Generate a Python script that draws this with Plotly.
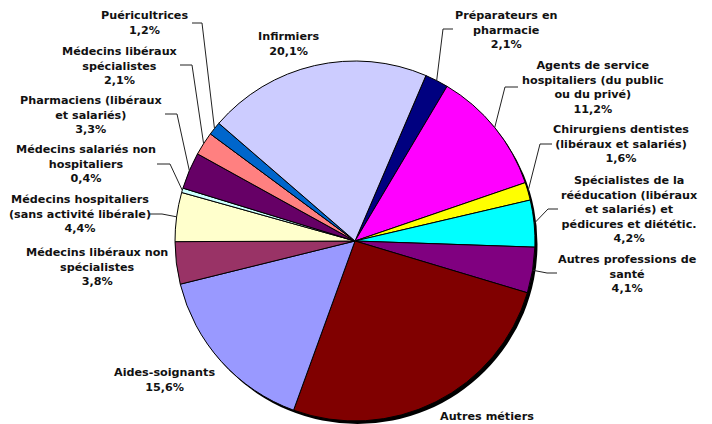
import math
import plotly.graph_objects as go

# ---------------- data ----------------
categories = [
    "Préparateurs en pharmacie",
    "Agents de service hospitaliers (du public ou du privé)",
    "Chirurgiens dentistes (libéraux et salariés)",
    "Spécialistes de la rééducation (libéraux et salariés) et pédicures et diététic.",
    "Autres professions de santé",
    "Autres métiers",
    "Aides-soignants",
    "Médecins libéraux non spécialistes",
    "Médecins hospitaliers (sans activité libérale)",
    "Médecins salariés non hospitaliers",
    "Pharmaciens (libéraux et salariés)",
    "Médecins libéraux spécialistes",
    "Puéricultrices",
    "Infirmiers",
]
values = [2.1, 11.2, 1.6, 4.2, 4.1, 25.9, 15.6, 3.8, 4.4, 0.4, 3.3, 2.1, 1.2, 20.1]
show_pct = [True, True, True, True, True, False, True, True, True, True, True, True, True, True]
display_labels = [
    "Préparateurs en<br>pharmacie",
    "Agents de service<br>hospitaliers (du public<br>ou du privé)",
    "Chirurgiens dentistes<br>(libéraux et salariés)",
    "Spécialistes de la<br>rééducation (libéraux<br>et salariés) et<br>pédicures et diététic.",
    "Autres professions de<br>santé",
    "Autres métiers",
    "Aides-soignants",
    "Médecins libéraux non<br>spécialistes",
    "Médecins hospitaliers<br>(sans activité libérale)",
    "Médecins salariés non<br>hospitaliers",
    "Pharmaciens (libéraux<br>et salariés)",
    "Médecins libéraux<br>spécialistes",
    "Puéricultrices",
    "Infirmiers",
]
colors = ["#000080", "#FF00FF", "#FFFF00", "#00FFFF", "#800080", "#800000", "#9999FF",
          "#993366", "#FFFFCC", "#CCFFFF", "#660066", "#FF8080", "#0066CC", "#CCCCFF"]

# ---------------- layout (pixels, reference picture coords) ----------------
W, H = 712, 424
OFF = 8          # page body margin offset
CX, CY, R = 355, 241, 180
ROTATION = 23.2

label_pos = [
    (506, 30), (593, 88), (621, 144), (629, 209), (627, 274), (487, 416), (164, 380),
    (97, 267), (80, 214), (86, 164), (91, 115), (120, 66), (144, 23), (289, 44),
]
leaders = [
    (453, 443, 29), (518, 505, 87), (552, 540, 144), (558, 548, 209), (557, 547, 273),
    None, None, None, (150, 162, 214), (157, 170, 164), (165, 177, 114), (180, 192, 65),
    (192, 202, 23), None,
]


def px(x):
    return (x - OFF) / W


def py(y):
    return 1 - (y - OFF) / H


fig = go.Figure(go.Pie(
    labels=categories,
    values=values,
    sort=False,
    direction="clockwise",
    rotation=ROTATION,
    marker=dict(colors=colors, line=dict(color="black", width=1)),
    textinfo="none",
    hoverinfo="label+percent",
    domain=dict(x=[px(CX - R), px(CX + R)], y=[py(CY + R), py(CY - R)]),
    showlegend=False,
))

total = sum(values)
annotations = []
shapes = [dict(type="circle", xref="paper", yref="paper", layer="below",
               x0=px(CX - R + 2.5), x1=px(CX + R + 2.5), y0=py(CY + R + 3), y1=py(CY - R + 3),
               fillcolor="black", line=dict(width=0))]

cum = 0.0
for i, v in enumerate(values):
    mid = ROTATION + (cum + v / 2) / total * 360
    cum += v
    txt = display_labels[i]
    if show_pct[i]:
        txt += "<br>" + f"{v:.1f}".replace(".", ",") + "%"
    lx, ly = label_pos[i]
    annotations.append(dict(
        x=px(lx), y=py(ly), xref="paper", yref="paper", text=txt, showarrow=False,
        xanchor="center", yanchor="middle", align="center",
        font=dict(family="DejaVu Sans", size=11.2, color="#111111", weight="bold"),
    ))
    if leaders[i] is not None:
        x1, x2, yy = leaders[i]
        a = math.radians(mid)
        ex = CX + R * math.sin(a)
        ey = CY - R * math.cos(a)
        shapes.append(dict(
            type="path", xref="paper", yref="paper",
            path=f"M {px(x1)} {py(yy)} L {px(x2)} {py(yy)} L {px(ex)} {py(ey)}",
            line=dict(color="#222222", width=1),
        ))

fig.update_layout(
    width=W, height=H,
    margin=dict(l=0, r=0, t=0, b=0),
    paper_bgcolor="white", plot_bgcolor="white",
    annotations=annotations, shapes=shapes,
)
fig.write_html("out.html")
